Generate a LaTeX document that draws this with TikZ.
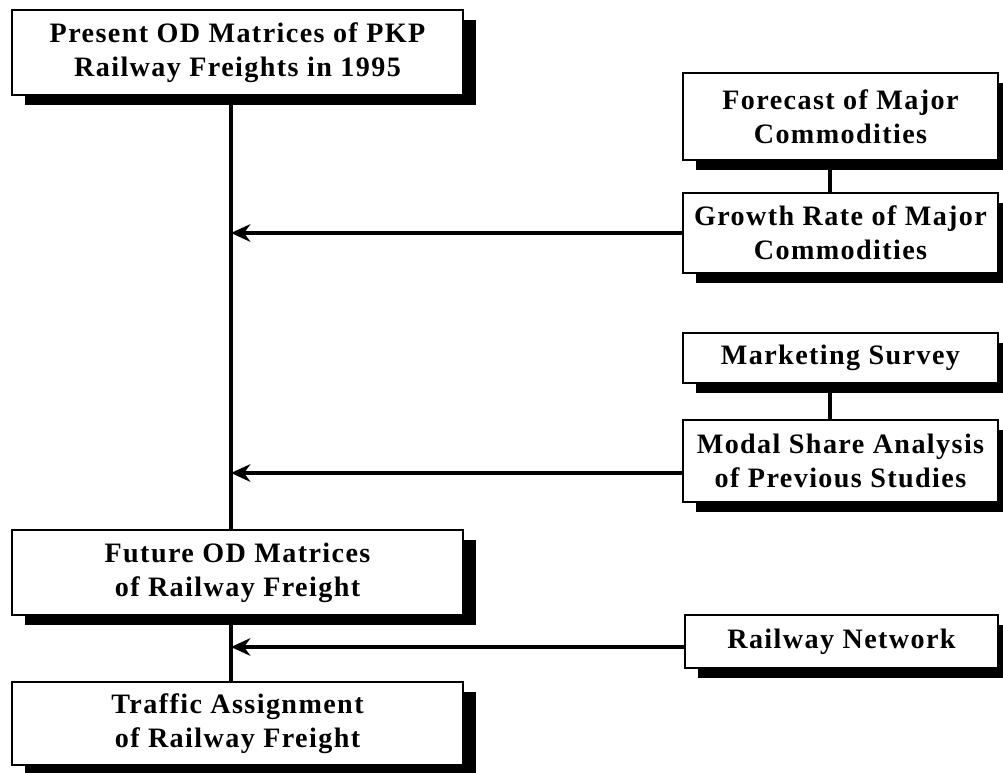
\documentclass[tikz,border=0pt]{standalone}
\usepackage{fontspec}
\setmainfont{Liberation Serif}[LetterSpace=5]
\usetikzlibrary{arrows.meta,positioning,shadows}

\tikzset{
  stage/.style={draw, line width=1.1pt, fill=white, align=center, inner sep=0pt,
    font=\bfseries\fontsize{16}{19.5}\selectfont,
    drop shadow={shadow xshift=0.26cm, shadow yshift=-0.2cm, fill=black, opacity=1}},
  wide/.style={stage, minimum width=9.02cm, minimum height=1.7cm},
  side/.style={stage, minimum width=6.3cm},
  link/.style={line width=2.2pt},
  feed/.style={link, -{Stealth[length=11pt,width=10pt]}},
}

\begin{document}
\begin{tikzpicture}[x=0.02cm,y=-0.02cm]
  \useasboundingbox (0,0) rectangle (1003,773);
  \coordinate (spine) at (231,0);
  \coordinate (rspine) at (830,0);

  % left column
  \node[wide] (present) at (237.5,52.5) {Present OD Matrices of PKP\\Railway Freights in 1995};
  \node[wide] (future)  at (237.5,572.5) {Future OD Matrices\\of Railway Freight};
  \node[wide, minimum height=1.66cm] (traffic) at (237.5,723.5) {Traffic Assignment\\of Railway Freight};

  % right column
  \node[side, minimum height=1.74cm] (forecast) at (840.5,116.5) {Forecast of Major\\Commodities};
  \node[side, minimum height=1.6cm]  (growth)   at (840.5,233) {Growth Rate of Major\\Commodities};
  \node[side, minimum height=1.0cm]  (market)   at (840.5,358) {Marketing Survey};
  \node[side, minimum height=1.64cm] (modal)    at (840.5,461) {Modal Share Analysis\\of Previous Studies};
  \node[side, minimum height=1.06cm, minimum width=6.26cm] (network) at (841.5,641.5) {Railway Network};

  % connectors
  \draw[link] (present.south -| spine) -- (future.north -| spine);
  \draw[link] (future.south -| spine) -- (traffic.north -| spine);
  \draw[link] (forecast.south -| rspine) -- (growth.north -| rspine);
  \draw[link] (market.south -| rspine) -- (modal.north -| rspine);

  \draw[feed] (growth.west) -- (growth.west -| spine);
  \draw[feed] ([yshift=-0.24cm]modal.west) -- ([yshift=-0.24cm]modal.west -| spine);
  \draw[feed] ([yshift=-0.11cm]network.west) -- ([yshift=-0.11cm]network.west -| spine);
\end{tikzpicture}
\end{document}
